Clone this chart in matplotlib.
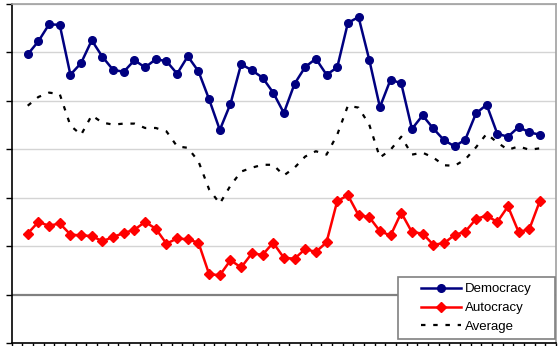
import numpy as np
import matplotlib.pyplot as plt
from matplotlib.patches import Rectangle

# Valores (sin etiquetas de eje en el original)
democracy = [4.96, 5.23, 5.58, 5.57, 4.54, 4.78, 5.25, 4.91, 4.64, 4.60,
             4.84, 4.69, 4.86, 4.82, 4.56, 4.92, 4.61, 4.03, 3.40, 3.94,
             4.76, 4.63, 4.48, 4.17, 3.75, 4.35, 4.70, 4.87, 4.54, 4.69,
             5.61, 5.73, 4.85, 3.87, 4.44, 4.36, 3.42, 3.70, 3.43, 3.19,
             3.06, 3.20, 3.74, 3.92, 3.32, 3.26, 3.46, 3.35, 3.30]
autocracy = [1.26, 1.50, 1.42, 1.47, 1.24, 1.22, 1.21, 1.10, 1.19, 1.27,
             1.34, 1.50, 1.36, 1.05, 1.16, 1.14, 1.07, 0.42, 0.40, 0.71,
             0.56, 0.85, 0.82, 1.07, 0.76, 0.74, 0.94, 0.88, 1.08, 1.93,
             2.05, 1.64, 1.60, 1.31, 1.22, 1.69, 1.29, 1.26, 1.03, 1.06,
             1.23, 1.30, 1.56, 1.63, 1.50, 1.82, 1.29, 1.35, 1.94]
average = [3.90, 4.08, 4.17, 4.14, 3.49, 3.30, 3.70, 3.55, 3.51, 3.53,
           3.53, 3.44, 3.44, 3.37, 3.06, 3.03, 2.75, 2.17, 1.88, 2.25,
           2.54, 2.62, 2.68, 2.68, 2.46, 2.62, 2.85, 2.96, 2.89, 3.30,
           3.90, 3.86, 3.51, 2.83, 2.99, 3.26, 2.89, 2.93, 2.83, 2.67,
           2.66, 2.79, 3.04, 3.32, 3.14, 2.99, 3.06, 2.99, 3.02]
labels = ['Democracy', 'Autocracy', 'Average']

n_cat = 51
x = np.arange(1, len(democracy) + 1)

fig = plt.figure(figsize=(5.6, 3.46), dpi=100)
ax = fig.add_axes([11.7 / 560, 1 - 343 / 346, (556 - 11.7) / 560, (343 - 4) / 346])

# Rejilla horizontal
for yv in range(-1, 7):
    if yv == 0:
        ax.axhline(yv, color='#808080', lw=1.6, zorder=1)
    else:
        ax.axhline(yv, color='#d4d4d4', lw=1.0, zorder=1)

ax.plot(x, democracy, color='#000080', lw=1.8, marker='o', ms=5.5,
        label=labels[0], zorder=3)
ax.plot(x, autocracy, color='#ff0000', lw=1.8, marker='D', ms=5.0,
        label=labels[1], zorder=3)
ax.plot(x, average, color='black', lw=1.6, linestyle=(0, (2, 3.5)),
        label=labels[2], zorder=2)

ax.set_xlim(-0.5, n_cat - 0.5)
ax.set_ylim(-1, 6)
ax.set_xticks(np.arange(-0.5, n_cat, 1))
ax.set_xticklabels([])
ax.set_yticks(range(-1, 7))
ax.set_yticklabels([])
ax.tick_params(axis='y', direction='out', length=4, width=1, color='black')
ax.tick_params(axis='x', direction='out', length=3, width=1, color='black')

ax.spines['left'].set_color('black')
ax.spines['bottom'].set_color('black')
ax.spines['top'].set_color('#a0a0a0')
ax.spines['right'].set_color('#a0a0a0')
for s in ax.spines.values():
    s.set_linewidth(1.2)

# Caja de la leyenda (estilo Excel, con margen lateral amplio)
bx, by, bw, bh = 0.7097, 0.0127, 0.289, 0.181
ax.add_patch(Rectangle((bx, by), bw, bh, transform=ax.transAxes,
                       facecolor='white', edgecolor='#808080', lw=1.2, zorder=5))
leg = ax.legend(loc='center', bbox_to_anchor=(bx + bw / 2, by + bh / 2),
                borderaxespad=0, borderpad=0, frameon=False,
                prop={'family': 'Liberation Sans', 'size': 9.5},
                handlelength=3.0, handletextpad=0.3, labelspacing=0.5)
leg.set_zorder(6)

fig.savefig('out.png', dpi=100)
